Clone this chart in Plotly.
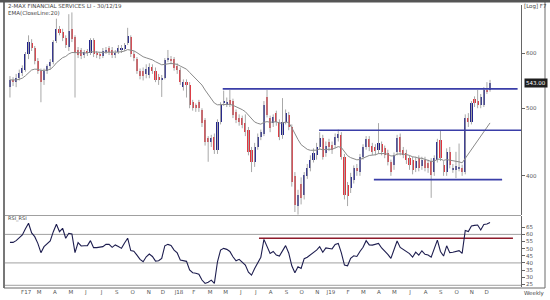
import numpy as np
import pandas as pd
import plotly.graph_objects as go

# ---------------- data (weekly bars, Jan 2017 - 30 Dec 2019) ----------------
opens = [536, 549, 545, 552, 562, 568, 598, 620, 610, 584, 566, 548, 566, 574, 582, 624, 650, 644, 630, 612,
         650, 632, 606, 606, 596, 604, 600, 626, 600, 598, 594, 602, 610, 606, 596, 602, 606, 608, 620, 632,
         598, 588, 566, 566, 560, 558, 572, 566, 555, 549, 553, 586, 588, 588, 575, 567, 537, 545, 540, 510,
         505, 510, 497, 481, 453, 447, 455, 436, 478, 508, 507, 514, 512, 494, 484, 484, 477, 465, 436, 419,
         440, 455, 460, 519, 484, 476, 492, 478, 458, 478, 489, 470, 400, 362, 390, 376, 400, 411, 422, 428,
         440, 453, 432, 447, 443, 443, 453, 458, 426, 388, 384, 395, 410, 405, 426, 440, 452, 442, 440, 436,
         444, 438, 432, 419, 414, 433, 455, 436, 432, 424, 422, 410, 424, 413, 422, 418, 420, 405, 422, 450,
         415, 405, 433, 408, 408, 410, 411, 405, 484, 478, 516, 512, 505, 505, 531, 531]
highs = [556, 554, 560, 568, 576, 602, 636, 628, 614, 590, 570, 570, 578, 588, 626, 672, 656, 650, 636, 682,
         686, 636, 612, 610, 606, 608, 630, 630, 604, 602, 610, 612, 614, 612, 606, 616, 616, 620, 652, 636,
         604, 592, 570, 572, 578, 580, 578, 572, 560, 558, 590, 606, 594, 592, 580, 572, 550, 550, 545, 514,
         508, 514, 500, 484, 456, 458, 460, 482, 510, 530, 518, 531, 516, 498, 490, 488, 490, 470, 440, 446,
         460, 466, 512, 531, 488, 490, 496, 482, 517, 498, 494, 474, 405, 382, 398, 405, 416, 428, 438, 446,
         462, 458, 448, 452, 448, 460, 466, 462, 430, 392, 404, 414, 416, 430, 444, 456, 456, 446, 444, 476,
         448, 442, 436, 422, 432, 458, 460, 440, 436, 428, 426, 426, 428, 426, 426, 422, 424, 428, 452, 465,
         420, 438, 440, 416, 433, 445, 415, 490, 492, 512, 520, 531, 524, 536, 545, 549]
lows = [518, 538, 536, 548, 556, 564, 588, 604, 578, 560, 510, 540, 560, 568, 578, 620, 636, 624, 610, 604,
        622, 518, 590, 588, 590, 594, 596, 592, 590, 588, 590, 598, 596, 590, 590, 598, 600, 604, 616, 592,
        584, 560, 550, 548, 552, 552, 560, 545, 540, 519, 550, 582, 578, 566, 560, 540, 530, 518, 500, 496,
        494, 494, 470, 442, 419, 440, 430, 430, 474, 504, 502, 502, 484, 476, 472, 468, 456, 428, 405, 412,
        436, 450, 456, 485, 462, 470, 472, 450, 452, 474, 465, 386, 355, 352, 364, 370, 396, 406, 418, 422,
        436, 422, 426, 434, 430, 438, 448, 422, 370, 362, 378, 390, 400, 400, 422, 436, 434, 428, 428, 430,
        428, 424, 414, 400, 408, 428, 428, 424, 416, 408, 402, 405, 406, 408, 406, 404, 372, 400, 418, 420,
        400, 400, 410, 404, 397, 406, 400, 402, 470, 474, 502, 500, 500, 502, 524, 528]
closes = [549, 545, 552, 562, 571, 598, 622, 610, 584, 566, 545, 566, 574, 582, 622, 650, 642, 630, 616, 645,
          628, 600, 596, 594, 602, 600, 626, 598, 596, 594, 604, 606, 602, 596, 600, 610, 610, 616, 634, 598,
          590, 566, 556, 556, 570, 572, 566, 549, 548, 553, 586, 590, 586, 571, 567, 545, 545, 540, 505, 500,
          500, 500, 476, 447, 447, 453, 436, 478, 505, 512, 510, 506, 489, 481, 478, 473, 462, 433, 419, 440,
          455, 462, 505, 489, 468, 486, 478, 455, 478, 492, 470, 392, 363, 376, 372, 401, 410, 422, 432, 440,
          453, 426, 441, 440, 436, 455, 460, 426, 376, 374, 399, 410, 406, 426, 440, 452, 440, 433, 434, 446,
          433, 429, 419, 405, 429, 453, 433, 429, 422, 415, 408, 420, 411, 422, 411, 410, 401, 424, 447, 424,
          405, 433, 415, 411, 413, 411, 405, 484, 478, 508, 508, 505, 519, 531, 529, 543]
rsi = [54.4, 54.4, 55.6, 57.5, 59.6, 64.0, 67.8, 61.0, 58.4, 53.7, 47.2, 51.4, 53.7, 55.4, 61.9, 67.1, 61.9, 64.3, 57.3, 60.8,
       60.3, 47.2, 54.2, 51.9, 52.0, 52.1, 55.6, 50.7, 50.7, 51.0, 51.4, 53.0, 53.0, 50.9, 52.6, 51.5, 50.2, 54.0, 57.3, 48.6,
       48.2, 45.5, 42.5, 40.8, 44.3, 46.2, 44.5, 41.3, 41.5, 43.2, 52.0, 53.0, 52.2, 49.0, 47.0, 42.0, 41.8, 41.1, 35.0, 33.1,
       32.8, 32.1, 28.0, 25.6, 26.5, 27.9, 25.6, 40.8, 49.0, 50.2, 49.5, 48.0, 44.3, 41.5, 42.5, 40.5, 38.5, 33.5, 31.4, 36.0,
       40.5, 44.0, 56.5, 51.9, 46.7, 48.0, 45.5, 44.8, 49.0, 52.1, 47.0, 38.0, 33.1, 37.3, 36.1, 43.0, 44.0, 45.5, 47.0, 49.0,
       51.4, 47.5, 50.5, 50.3, 49.8, 53.0, 53.7, 47.0, 38.5, 38.0, 43.2, 45.0, 44.5, 48.0, 51.0, 55.6, 52.6, 52.5, 53.0, 53.7,
       50.5, 48.5, 46.0, 43.2, 49.0, 55.4, 50.9, 49.5, 48.3, 46.5, 44.0, 47.5, 45.5, 48.5, 46.0, 45.5, 44.0, 50.0, 56.0, 48.0,
       44.8, 52.0, 47.2, 47.5, 48.0, 48.6, 46.7, 62.7, 62.0, 65.9, 66.3, 66.6, 63.1, 67.0, 67.3, 68.3]

tick_labels = ["F17", "M", "A", "M", "J", "J", "S", "O", "N", "D", "J18", "F", "M", "M", "J", "J", "A",
               "S", "O", "N", "J19", "F", "M", "A", "M", "J", "A", "S", "O", "N", "D"]
tick_bars = [5.2, 9.4, 14.5, 19.7, 24.5, 29.6, 34.5, 39.6, 44.8, 49.4, 54.6, 59.4, 64.6, 69.6, 74.5, 79.4, 84.2,
             89.3, 94.2, 99.2, 103.6, 109.2, 114.1, 119.1, 124.1, 129.2, 134.2, 139.1, 144.2, 149.1, 153.9]

# drawn trend levels: (price, first bar, last bar)
price_levels = [533, 465, 395]
level_start = [68.7, 99.8, 117.5]
level_end = [163.9, 165.0, 158.9]
rsi_level = 57.3
rsi_level_start, rsi_level_end = 80.4, 162.4
price_ticks = [400, 500, 600]
rsi_ticks = [25, 30, 35, 40, 45, 50, 55, 60, 65]
last_price = closes[-1]

# ---------------- styling ----------------
UP = "#20228a"
DOWN = "#e2323c"
WICK = "#a8a8a8"
FONT = "DejaVu Sans"
TXT = "#555555"

bars = list(range(len(closes)))
ema = pd.Series(closes, dtype=float).ewm(span=20, adjust=False).mean()

wx, wy = [], []
for i, (h, l) in enumerate(zip(highs, lows)):
    wx += [i, i, None]
    wy += [l, h, None]

body_base = [min(o, c) for o, c in zip(opens, closes)]
body_len = [max(abs(c - o), 1.0) for o, c in zip(opens, closes)]
body_col = [UP if c >= o else DOWN for o, c in zip(opens, closes)]

fig = go.Figure()
fig.add_trace(go.Scatter(x=wx, y=wy, mode="lines", line=dict(color=WICK, width=1),
                         xaxis="x", yaxis="y", hoverinfo="skip"))
fig.add_trace(go.Bar(x=bars, y=body_len, base=body_base, width=0.68,
                     marker=dict(color=body_col, line=dict(width=0)), xaxis="x", yaxis="y"))
fig.add_trace(go.Scatter(x=bars, y=ema, mode="lines", line=dict(color="#8a8a8a", width=1),
                         xaxis="x", yaxis="y"))
for lv, s, e in zip(price_levels, level_start, level_end):
    fig.add_trace(go.Scatter(x=[s, e], y=[lv, lv], mode="lines",
                             line=dict(color="#3a3ea8", width=1.6), xaxis="x", yaxis="y"))

fig.add_trace(go.Scatter(x=[rsi_level_start, rsi_level_end], y=[rsi_level, rsi_level], mode="lines",
                         line=dict(color="#8e1b2b", width=1.6), xaxis="x", yaxis="y2"))
fig.add_trace(go.Scatter(x=bars, y=rsi, mode="lines", line=dict(color="#1d1d4f", width=1.1),
                         xaxis="x", yaxis="y2"))

# plot area: x 5..521, y 5..287 (px)
def px(xp):
    return (xp - 5) / 516.0

def py(yp):
    return (287 - yp) / 282.0

shapes = []
for v in [60, 40, 24.3]:
    shapes.append(dict(type="line", xref="x", yref="y2", x0=-1.6, x1=165, y0=v, y1=v,
                       line=dict(color="#a0a0a0", width=1), layer="below"))
shapes.append(dict(type="line", xref="paper", yref="paper", x0=0, x1=1, y0=py(215.5), y1=py(215.5),
                   line=dict(color="#a0a0a0", width=1)))
# frame
shapes.append(dict(type="line", xref="paper", yref="paper", x0=px(4), x1=px(4), y0=py(1), y1=py(288),
                   line=dict(color="#4a4a4a", width=1.5)))
shapes.append(dict(type="line", xref="paper", yref="paper", x0=px(545), x1=px(545), y0=py(1), y1=py(288),
                   line=dict(color="#6a6a6a", width=1)))
shapes.append(dict(type="line", xref="paper", yref="paper", x0=px(4), x1=px(545), y0=py(288), y1=py(288),
                   line=dict(color="#6a6a6a", width=1)))
shapes.append(dict(type="line", xref="paper", yref="paper", x0=px(0), x1=px(550), y0=py(1.3), y1=py(1.3),
                   line=dict(color="#555555", width=2.6)))

ann = [
    dict(text="2-MAX FINANCIAL SERVICES LI - 30/12/19", x=px(6), y=py(6), xanchor="left", yanchor="middle",
         font=dict(size=5.5, color="#444")),
    dict(text="EMA(CloseLine:20)", x=px(6), y=py(13.2), xanchor="left", yanchor="middle",
         font=dict(size=5.5, color="#444")),
    dict(text="RSI_RSI", x=px(6), y=py(218.5), xanchor="left", yanchor="middle",
         font=dict(size=5, color="#444")),
    dict(text="[Log] F7", x=px(522), y=py(6.5), xanchor="left", yanchor="middle",
         font=dict(size=5.5, color="#444")),
    dict(text="Weekly", x=px(522), y=py(293), xanchor="left", yanchor="middle",
         font=dict(size=5.5, color="#444")),
]
for a in ann:
    a.update(xref="paper", yref="paper", showarrow=False, font=dict(family=FONT, **a["font"]))
ann.append(dict(text=f"{last_price:.2f}", xref="paper", yref="y", x=px(524), y=np.log10(last_price),
                xanchor="left", yanchor="middle", showarrow=False, bgcolor="#1e1e1e", borderpad=1,
                font=dict(family=FONT, size=5.5, color="white")))

axis_common = dict(showgrid=False, zeroline=False, tickfont=dict(family=FONT, size=5.5, color=TXT))
fig.update_layout(
    width=550, height=300,
    margin=dict(l=5, r=29, t=5, b=13),
    paper_bgcolor="white", plot_bgcolor="white",
    showlegend=False, bargap=0,
    xaxis=dict(domain=[0, 1], range=[-1.6, 165], anchor="y2", tickmode="array",
               tickvals=tick_bars, ticktext=tick_labels, ticks="", showline=False, **axis_common),
    yaxis=dict(domain=[py(215), 1], type="log", range=[np.log10(351.5), np.log10(703)], side="right",
               anchor="x", tickmode="array", tickvals=price_ticks, ticks="outside", ticklen=3,
               tickcolor="#666", showline=True, linecolor="#666", linewidth=1, **axis_common),
    yaxis2=dict(domain=[0, py(216)], range=[23.1, 72.9], side="right", anchor="x", tickmode="array",
                tickvals=rsi_ticks, ticks="outside", ticklen=3, tickcolor="#666",
                showline=True, linecolor="#666", linewidth=1, **axis_common),
    shapes=shapes, annotations=ann,
)

fig.write_html("out.html")
